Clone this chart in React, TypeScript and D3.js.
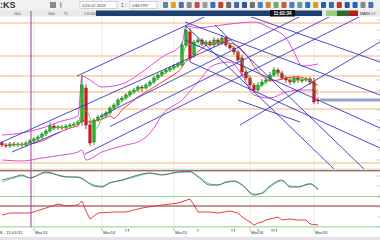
import React from "react";
import * as d3 from "d3";

const FONT = "'Liberation Sans', Arial, sans-serif";

// ---- OHLC (bar index 0..79) ----
const opens = [1457,1455,1454,1456,1455,1456,1455,1457,1459,1461,1463,1466,1469,1474,1472,1473,1472,1474,1475,1476,1478,1512,1475,1458,1480,1483,1484,1487,1492,1495,1500,1502,1505,1508,1510,1513,1512,1515,1518,1522,1525,1528,1530,1532,1534,1535,1555,1568,1545,1558,1560,1556,1558,1555,1560,1557,1562,1555,1552,1548,1542,1528,1522,1515,1510,1515,1518,1520,1525,1530,1527,1522,1520,1518,1522,1520,1520,1521,1518,1500];
const closes = [1455,1454,1456,1455,1456,1455,1457,1459,1461,1463,1466,1469,1474,1472,1473,1472,1474,1475,1476,1478,1515,1475,1457,1480,1483,1484,1487,1492,1495,1500,1502,1505,1508,1510,1513,1512,1515,1518,1522,1525,1528,1530,1532,1534,1536,1555,1570,1542,1558,1560,1556,1558,1555,1560,1557,1562,1555,1552,1548,1540,1528,1522,1515,1510,1515,1518,1520,1525,1530,1527,1522,1520,1518,1522,1520,1520,1521,1518,1498,1499];
const highs = [1459,1457,1458,1458,1458,1458,1459,1461,1463,1465,1468,1471,1478,1476,1475,1475,1476,1477,1478,1480,1525,1516,1480,1482,1485,1487,1489,1494,1497,1502,1504,1507,1510,1512,1515,1515,1517,1520,1524,1527,1530,1532,1534,1536,1538,1558,1573,1572,1560,1563,1562,1560,1560,1563,1562,1565,1564,1557,1554,1550,1545,1530,1524,1517,1518,1521,1523,1528,1533,1532,1529,1524,1522,1524,1524,1523,1523,1523,1522,1503];
const lows = [1453,1452,1452,1453,1453,1453,1453,1455,1457,1459,1461,1464,1467,1470,1470,1470,1470,1472,1473,1474,1474,1471,1454,1455,1478,1481,1482,1485,1490,1493,1498,1500,1503,1506,1508,1508,1510,1513,1516,1520,1523,1526,1528,1530,1532,1533,1553,1538,1542,1556,1554,1554,1553,1553,1555,1555,1553,1550,1545,1538,1525,1520,1512,1507,1508,1513,1516,1518,1523,1524,1520,1517,1515,1516,1517,1517,1518,1515,1496,1496];

// ---- Bollinger-style bands ----
const upperIdx = [0,5,10,15,19,20,22,25,30,35,40,45,46,49,53,57,63,67,71,73,75,79];
const upperBand = [1465,1467,1472,1479,1484,1524,1520,1513,1516,1528,1543,1556,1574,1572,1574,1576,1578,1572,1562,1548,1534,1536];
const lowerIdx = [0,5,10,15,19,20,21,25,30,35,38,40,45,49,53,57,60,63,67,71,75,79];
const lowerBand = [1440,1439,1442,1445,1448,1450,1440,1448,1454,1460,1472,1485,1500,1518,1535,1538,1525,1505,1502,1508,1510,1510];

// ---- horizontal levels ----
const orangeLevels = [1577,1544,1524,1508,1491,1437];
const lastPrice = 1500;

// ---- trend lines [i1, p1, i2, p2] ----
const risingLines = [
  [18.75,1524,53.25,1588],
  [-0.5,1457,57,1560],
  [24.5,1483.5,76.75,1588],
  [27,1473.5,84.25,1588],
  [20.75,1446,91.75,1588],
  [59.5,1475,94.5,1558],
  [2.5,1448,14.5,1468],
];
const fallingLines = [
  [45.75,1575,83.25,1430],
  [53.25,1575,90.75,1430],
  [47,1538,94.5,1452],
  [45.75,1560,94.5,1472],
  [45.75,1578,94.5,1505],
  [59.5,1587,94.5,1538],
  [59,1500,74.5,1478],
];

// ---- oscillator panel 1 ----
const oscIdx = [0,3,5,7,11,16,19,23,25,27,30,34,37,40,44,47,49,52,54,56,58,60,63,65,67,70,72,74,77,79];
const oscGray = [16,19,21,18,24,19,19,10,9,13,16,21,23,21,24,24.5,19,11,11,14,15,11,1,3,10,16,9,9,12,6];
const oscCyan = [14,18,20,18.5,23,19.5,18.5,11,10,13.5,15.5,20,22.5,21.5,23.5,24,20,12,11,13.5,14.5,11.5,2,2.5,9,15,10,9.5,12.5,7];

// ---- indicator panel 2 ----
const indIdx = [0,2,7,11,14,16,19,20,21,22,24,28,31,35,40,44,47,48,49,52,54,57,59,60,62,63,64,65,66,69,70,72,74,76,77,79];
const indVals = [12,14,14,19,23,21,22,26,16,8,14,15,15,19,22,24,28,22,15,15,14,16,14,10,5,2,4,5,7,10,7,8,7,7,3,2];

// ---- time axis ----
const timeLabels = ["Mar13","Mar14","Mar15","Mar18","Mar19"];
const timeIdx = [8,25,43,62,78];
const axisMarks = [31,31.6,49,57.5,58.1,64,67.5,68,68.6];
const markerIdx = 7.25;

const iconColors = ["#6a7fa8","#e0a030","#4a6fb0","#8a8a8a","#c05050","#9a9a9a","#3a70c0","#c04040","#6a6a6a","#3a6ab0","#2a5aa0","#707070","#5080c0","#d08040","#7aa07a","#c06040","#4a80c0","#60a090","#3070c0","#d0a020","#2060b0","#3a6ab0","#c03030","#3050a0","#2060c0","#888888","#4a70b0"];

const sma = (arr: number[], n: number) =>
  arr.map((_, i) => (i < n - 1 ? null : (d3.mean(arr.slice(i - n + 1, i + 1)) as number)));

export default function App() {
  const x = d3.scaleLinear().domain([0, 79]).range([2, 318]);
  const y = d3.scaleLinear().domain([1435, 1583]).range([165, 17]);
  const yOsc = d3.scaleLinear().domain([0, 25]).range([196, 171]);
  const yInd = d3.scaleLinear().domain([0, 30]).range([227, 197]);

  const band = d3.line<[number, number]>().x(d => x(d[0])).y(d => y(d[1])).curve(d3.curveMonotoneX);
  const osc = d3.line<[number, number]>().x(d => x(d[0])).y(d => yOsc(d[1])).curve(d3.curveMonotoneX);
  const ind = d3.line<[number, number]>().x(d => x(d[0])).y(d => yInd(d[1]));
  const maLine = d3.line<number | null>().defined(d => d != null).x((_, i) => x(i)).y(d => y(d as number)).curve(d3.curveMonotoneX);

  const green = sma(closes, 3);
  const red = sma(closes, 8);
  const bw = 2.6;

  return (
    <div style={{ position: "fixed", left: 0, top: 0 }}>
      <svg width={380} height={240} style={{ display: "block", background: "#fff", fontFamily: FONT }}>
        <defs>
          <clipPath id="mainClip"><rect x={0} y={17} width={380} height={152} /></clipPath>
        </defs>
        <rect x={0} y={0} width={380} height={240} fill="#fff" />
        {/* toolbar */}
        <rect x={0} y={0} width={380} height={10} fill="#f1f1f1" />
        <text x={0} y={8} fontSize={9} fontWeight="bold" fill="#333">:KS</text>
        <rect x={50} y={2} width={6} height={6} fill="#8a8a8a" />
        <rect x={60} y={2.5} width={1.5} height={5} fill="#999" />
        <rect x={80} y={1.5} width={37} height={7} fill="#fff" stroke="#aaa" strokeWidth={0.5} />
        <text x={82} y={6.5} fontSize={4} fill="#333">5/24-02-2019</text>
        <text x={121} y={6.8} fontSize={5} fill="#555">1 :</text>
        <rect x={130} y={1.5} width={27} height={7} fill="#fff" stroke="#aaa" strokeWidth={0.5} />
        <text x={132} y={6.5} fontSize={4} fill="#333">USDTRY</text>
        {iconColors.map((c, i) => (
          <rect key={i} x={163 + i * 7.9} y={2} width={5} height={6} fill={c} rx={0.8} />
        ))}
        {/* second row */}
        <rect x={0} y={10} width={380} height={6.5} fill="#e9e9e9" />
        <text x={14} y={14.8} fontSize={3.6} fill="#555">G00</text>
        <text x={48} y={14.8} fontSize={3.6} fill="#555">G00</text>
        <text x={64} y={14.8} fontSize={3.6} fill="#555">TL</text>
        <text x={84} y={14.8} fontSize={3.6} fill="#555">1.8  0000.000.000.000</text>
        <rect x={96} y={10.5} width={226} height={5.5} fill="#1d3f72" />
        <rect x={270} y={10} width={25} height={6.5} fill="#111" />
        <text x={282.5} y={15} fontSize={4.6} fontWeight="bold" fill="#fff" textAnchor="middle">11:02:34</text>
        <rect x={326} y={10.5} width={11} height={5.5} fill="#9ccf7a" />
        <rect x={337} y={10.5} width={12} height={5.5} fill="#2f6a2f" />
        <rect x={349} y={10.5} width={9} height={5.5} fill="#b02020" />
        <text x={360} y={15} fontSize={4} fill="#333">MAIN ##</text>

        {/* vertical grid */}
        {timeIdx.map((t, i) => (
          <line key={i} x1={x(t)} x2={x(t)} y1={17} y2={227} stroke="#e6e6e6" strokeWidth={0.8} />
        ))}

        <g clipPath="url(#mainClip)">
          {orangeLevels.map((l, i) => (
            <line key={i} x1={0} x2={380} y1={y(l)} y2={y(l)} stroke="#f5b571" strokeWidth={1.2} />
          ))}
          <path d={band(upperIdx.map((t, i) => [t, upperBand[i]]) as any) || ""} fill="none" stroke="#e04ee0" strokeWidth={1} />
          <path d={band(lowerIdx.map((t, i) => [t, lowerBand[i]]) as any) || ""} fill="none" stroke="#e04ee0" strokeWidth={1} />
          {closes.map((c, i) => {
            const up = c >= opens[i];
            const col = up ? "#22b322" : "#d01818";
            const top = y(Math.max(c, opens[i]));
            const h = Math.max(1, Math.abs(y(c) - y(opens[i])));
            return (
              <g key={i}>
                <line x1={x(i)} x2={x(i)} y1={y(highs[i])} y2={y(lows[i])} stroke={up ? "#127a12" : "#a01010"} strokeWidth={0.8} />
                <rect x={x(i) - bw / 2} y={top} width={bw} height={h} fill={col} stroke={up ? "#0e6a0e" : "#a01010"} strokeWidth={0.4} />
              </g>
            );
          })}
          <path d={maLine(red) || ""} fill="none" stroke="#e53030" strokeWidth={0.9} />
          <path d={maLine(green) || ""} fill="none" stroke="#3ccc3c" strokeWidth={0.9} />
          {risingLines.concat(fallingLines).map((l, i) => (
            <line key={i} x1={x(l[0])} y1={y(l[1])} x2={x(l[2])} y2={y(l[3])} stroke="#3535c8" strokeWidth={0.9} />
          ))}
          <rect x={x(79.5)} y={y(lastPrice) - 1.5} width={380 - x(79.5)} height={3} fill="#97a3cc" />
        </g>

        {/* panel separators */}
        <line x1={0} x2={380} y1={169.2} y2={169.2} stroke="#a8dca0" strokeWidth={0.8} />
        <line x1={0} x2={380} y1={yOsc(25) - 0.2} y2={yOsc(25) - 0.2} stroke="#8b2c2c" strokeWidth={1} />
        <line x1={0} x2={380} y1={yOsc(0) + 0.5} y2={yOsc(0) + 0.5} stroke="#9fd89a" strokeWidth={1} />
        <line x1={0} x2={380} y1={yInd(21)} y2={yInd(21)} stroke="#8b2c2c" strokeWidth={1} />
        <line x1={0} x2={380} y1={yInd(0)} y2={yInd(0)} stroke="#6abf6a" strokeWidth={1} />

        {/* oscillator */}
        <path d={osc(oscIdx.map((t, i) => [t, oscCyan[i]]) as any) || ""} fill="none" stroke="#4fd8d8" strokeWidth={1} />
        <path d={osc(oscIdx.map((t, i) => [t, oscGray[i]]) as any) || ""} fill="none" stroke="#6a5a60" strokeWidth={0.9} />
        {/* indicator */}
        <path d={ind(indIdx.map((t, i) => [t, indVals[i]]) as any) || ""} fill="none" stroke="#e02a2a" strokeWidth={0.9} />

        {/* right ticks */}
        {y.ticks(12).map((t, i) => (
          <line key={"m" + i} x1={377} x2={380} y1={y(t)} y2={y(t)} stroke="#aaa" strokeWidth={0.6} />
        ))}
        {yOsc.ticks(3).map((t, i) => (
          <line key={"o" + i} x1={377} x2={380} y1={yOsc(t)} y2={yOsc(t)} stroke="#aaa" strokeWidth={0.6} />
        ))}
        {yInd.ticks(3).map((t, i) => (
          <line key={"n" + i} x1={377} x2={380} y1={yInd(t)} y2={yInd(t)} stroke="#aaa" strokeWidth={0.6} />
        ))}

        {/* marker vertical */}
        <line x1={x(markerIdx)} x2={x(markerIdx)} y1={11} y2={228} stroke="#9a3aa8" strokeWidth={1} />

        {/* time axis */}
        <rect x={0} y={227.5} width={380} height={9.5} fill="#fff" />
        <text x={0} y={233.5} fontSize={4.3} fill="#333">8 - 11:03:31</text>
        {timeLabels.map((t, i) => (
          <g key={i}>
            <line x1={x(timeIdx[i])} x2={x(timeIdx[i])} y1={228} y2={231} stroke="#777" strokeWidth={0.5} />
            <text x={x(timeIdx[i]) + 1} y={233.5} fontSize={4.3} fill="#333">{t}</text>
          </g>
        ))}
        {axisMarks.map((m, i) => (
          <line key={i} x1={x(m)} x2={x(m)} y1={229} y2={231.5} stroke="#222" strokeWidth={0.6} />
        ))}
        <rect x={0} y={237} width={380} height={3} fill="#e4e4e4" />
      </svg>
    </div>
  );
}
